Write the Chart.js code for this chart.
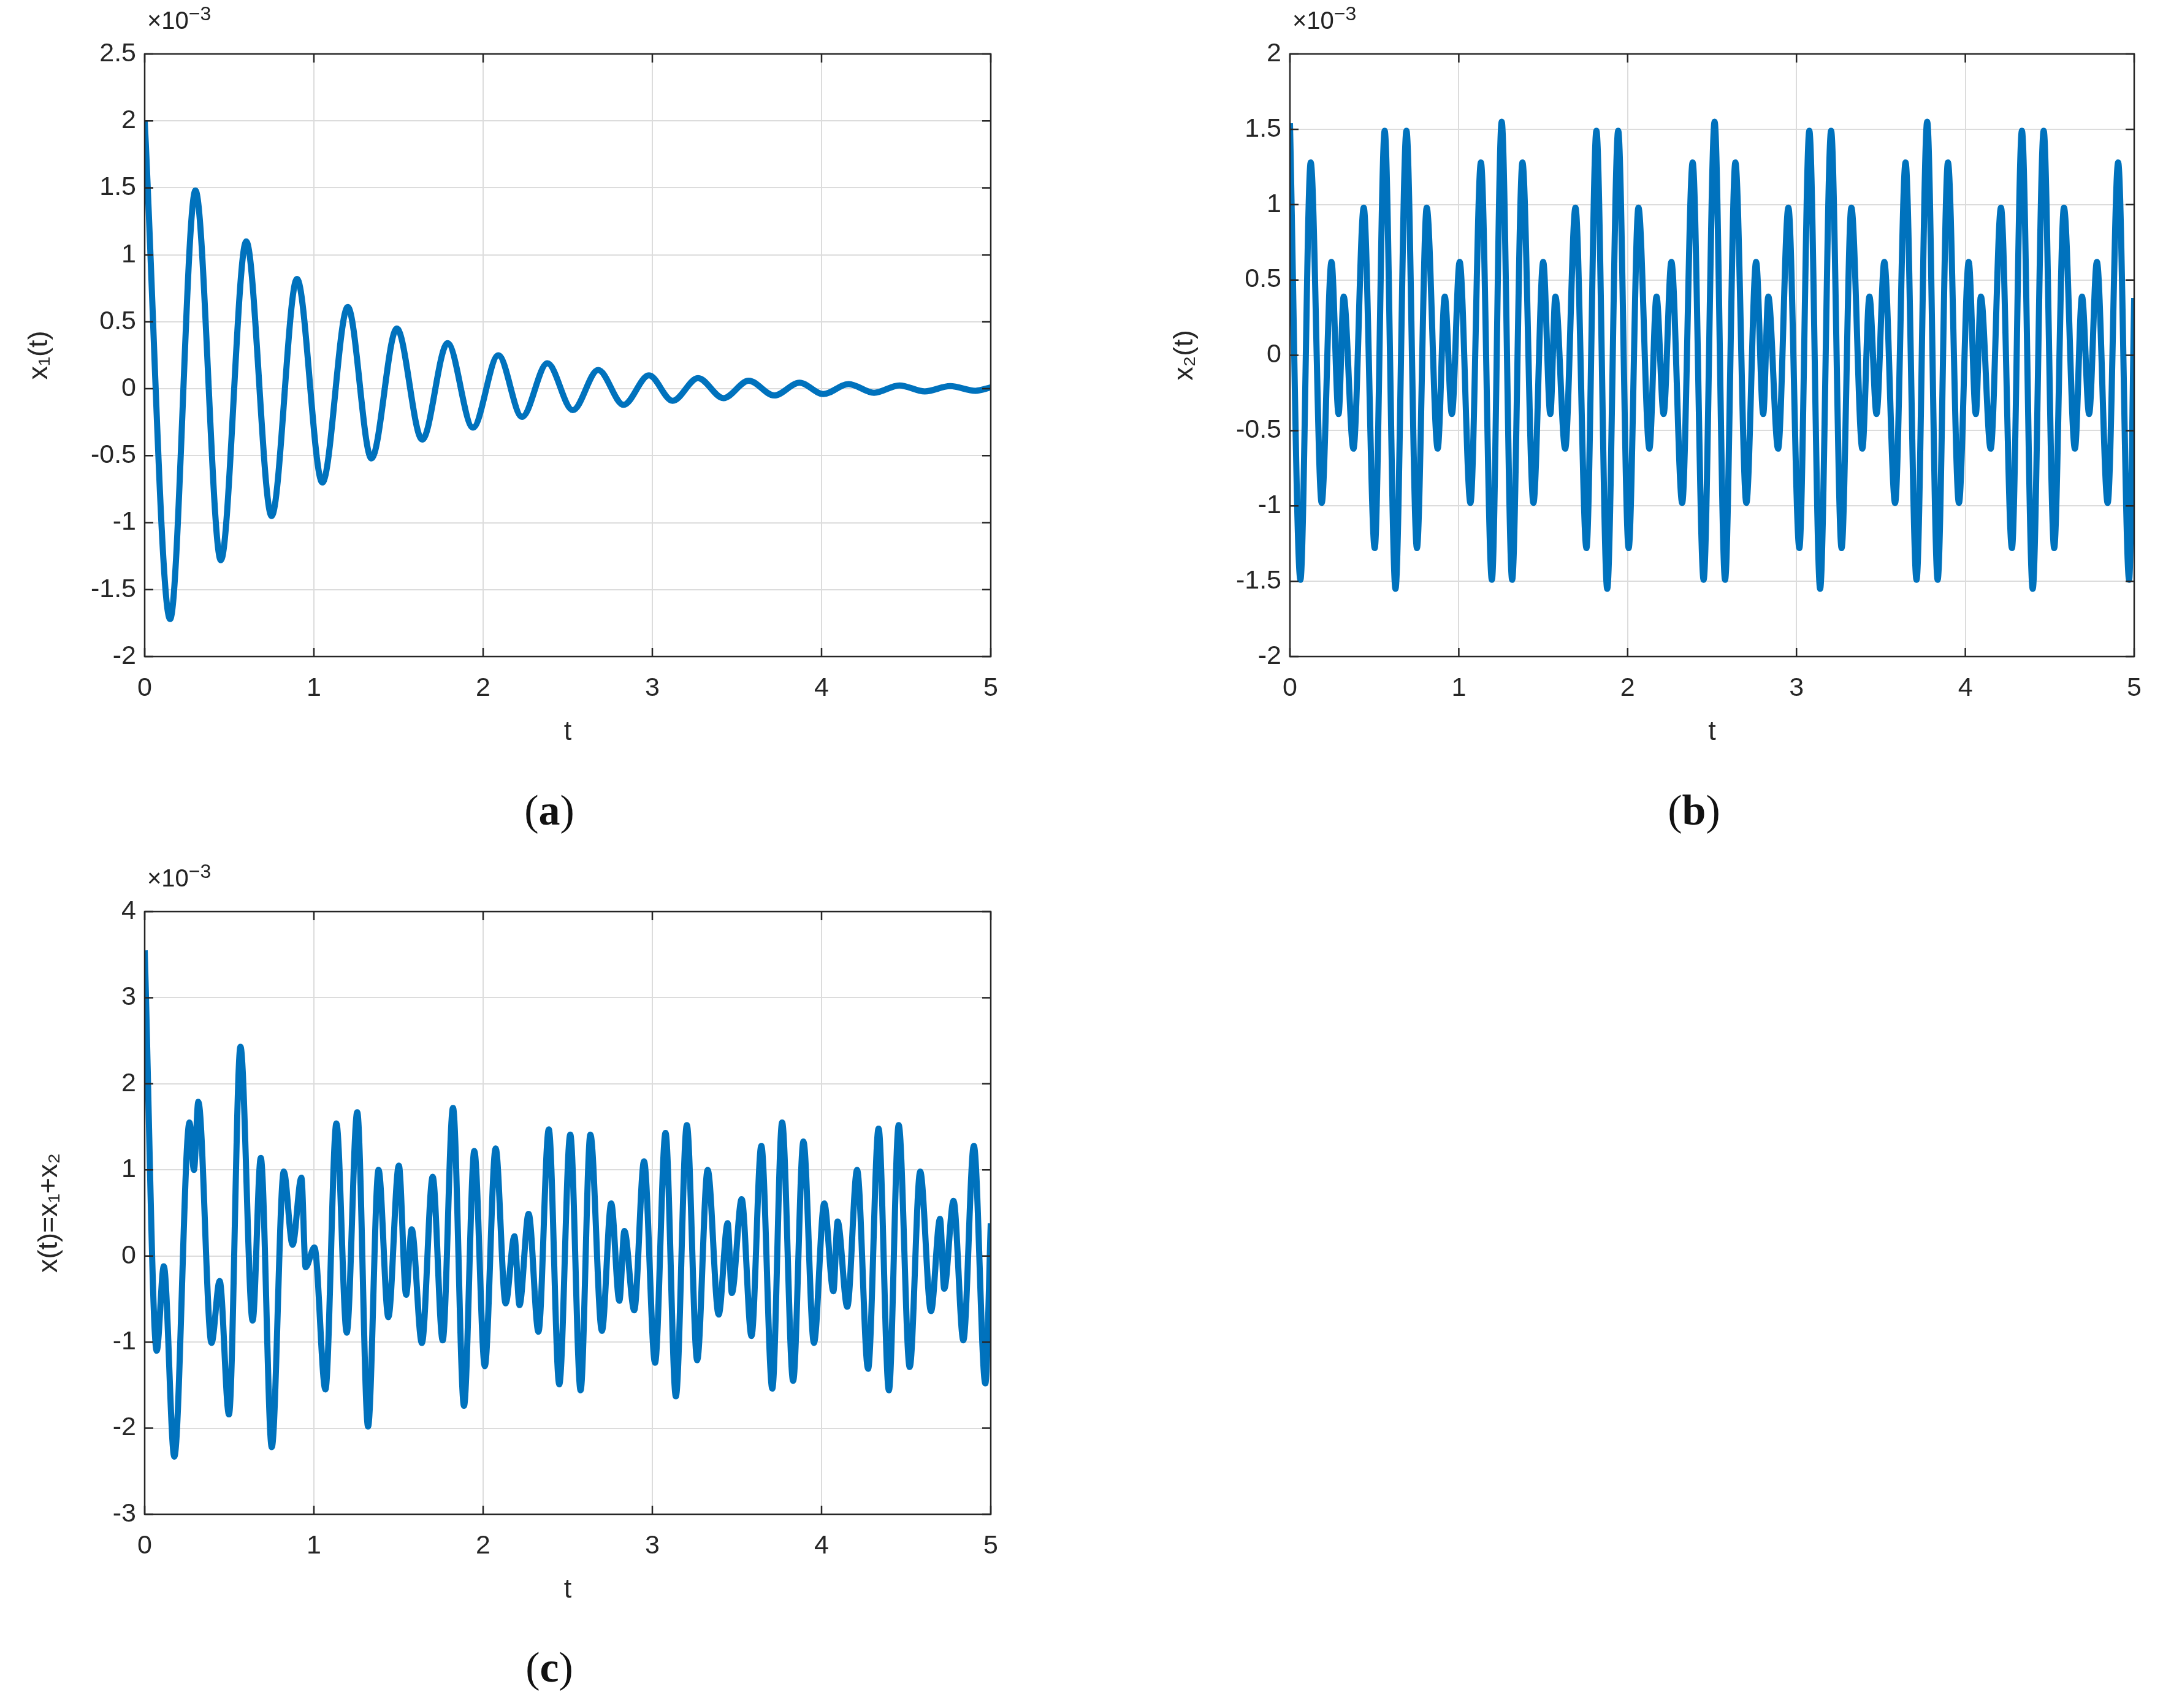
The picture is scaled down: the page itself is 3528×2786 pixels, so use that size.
<!DOCTYPE html>
<html><head><meta charset="utf-8">
<script src="https://cdn.jsdelivr.net/npm/chart.js@4"></script>
<style>
body{margin:0;background:#fff;width:3528px;height:2786px;position:relative;overflow:hidden;font-family:"Liberation Sans",Arial,sans-serif}
.c{position:absolute}
.lab{position:absolute;font-family:"Liberation Serif","DejaVu Serif",serif;font-size:70px;color:#111;transform:translateX(-50%)}
.exp{position:absolute;font-size:40px;color:#222}
.exp sup{font-size:32px}
</style></head><body>
<canvas id="ca" class="c" style="left:0;top:0;width:1700px;height:1250px" width="1700" height="1250"></canvas>
<canvas id="cb" class="c" style="left:1868px;top:0;width:1660px;height:1250px" width="1660" height="1250"></canvas>
<canvas id="cc" class="c" style="left:0;top:1399px;width:1700px;height:1250px" width="1700" height="1250"></canvas>
<div class="exp" style="left:240px;top:4px">×10<sup>−3</sup></div>
<div class="exp" style="left:2108px;top:4px">×10<sup>−3</sup></div>
<div class="exp" style="left:240px;top:1403px">×10<sup>−3</sup></div>
<div class="lab" style="left:896px;top:1282px">(<b>a</b>)</div>
<div class="lab" style="left:2763px;top:1282px">(<b>b</b>)</div>
<div class="lab" style="left:896px;top:2680px">(<b>c</b>)</div>
<script>
const aT=[0,0.15,0.30,0.45,0.60,0.75,0.90,1.05,1.20,1.34,1.49,1.64,1.79,1.94,2.09,2.23,2.38,2.53,2.68,2.83,2.98,3.12,3.27,3.42,3.57,3.72,3.87,4.01,4.16,4.31,4.46,4.61,4.76,4.91,5.0];
const aY=[2.0,-1.72,1.48,-1.28,1.10,-0.95,0.82,-0.70,0.61,-0.52,0.45,-0.38,0.34,-0.29,0.25,-0.21,0.19,-0.16,0.14,-0.12,0.10,-0.09,0.08,-0.07,0.06,-0.05,0.045,-0.04,0.035,-0.03,0.025,-0.02,0.02,-0.015,0.01];

const bT=[0,0.062,0.123,0.188,0.246,0.288,0.318,0.376,0.437,0.502,0.561,0.625,0.690,0.752,0.810,0.875,0.917,0.959,1.005,1.069,1.131,1.196,
1.254,1.316,1.377,1.442,1.500,1.542,1.572,1.630,1.691,1.756,1.815,1.879,1.944,2.006,2.064,2.129,2.171,2.213,2.259,2.323,2.385,2.450,
2.515,2.577,2.638,2.703,2.761,2.803,2.833,2.891,2.952,3.017,3.076,3.140,3.205,3.267,3.325,3.390,3.432,3.474,3.520,3.584,3.646,3.711,
3.774,3.836,3.897,3.962,4.020,4.062,4.092,4.150,4.211,4.276,4.335,4.399,4.464,4.526,4.584,4.649,4.691,4.733,4.779,4.843,4.905,4.970,5.0];
const bY=[1.54,-1.49,1.28,-0.98,0.62,-0.39,0.39,-0.62,0.98,-1.28,1.49,-1.55,1.49,-1.28,0.98,-0.62,0.39,-0.39,0.62,-0.98,1.28,-1.49,
1.55,-1.49,1.28,-0.98,0.62,-0.39,0.39,-0.62,0.98,-1.28,1.49,-1.55,1.49,-1.28,0.98,-0.62,0.39,-0.39,0.62,-0.98,1.28,-1.49,
1.55,-1.49,1.28,-0.98,0.62,-0.39,0.39,-0.62,0.98,-1.28,1.49,-1.55,1.49,-1.28,0.98,-0.62,0.39,-0.39,0.62,-0.98,1.28,-1.49,
1.55,-1.49,1.28,-0.98,0.62,-0.39,0.39,-0.62,0.98,-1.28,1.49,-1.55,1.49,-1.28,0.98,-0.62,0.39,-0.39,0.62,-0.98,1.28,-1.49,0.38];

const cT=[0,0.071,0.113,0.175,0.265,0.291,0.317,0.395,0.443,0.498,0.566,0.638,0.686,0.751,0.822,0.874,0.926,0.951,1.003,1.068,1.133,1.194,1.256,1.320,1.382,1.440,1.502,1.545,1.578,1.638,1.702,1.761,1.822,1.887,1.948,2.010,2.074,2.133,2.185,2.215,2.269,2.327,2.388,2.450,2.515,2.576,2.634,2.702,2.757,2.805,2.835,2.893,2.951,3.016,3.078,3.139,3.204,3.265,3.327,3.392,3.445,3.470,3.528,3.586,3.644,3.709,3.767,3.832,3.893,3.955,4.016,4.070,4.095,4.152,4.210,4.275,4.337,4.398,4.456,4.521,4.583,4.647,4.700,4.725,4.780,4.838,4.900,4.968,5.0];
const cY=[3.55,-1.10,-0.12,-2.33,1.55,1.0,1.79,-1.01,-0.29,-1.84,2.43,-0.75,1.14,-2.22,0.98,0.13,0.91,-0.13,0.10,-1.55,1.54,-0.89,1.67,-1.98,1.0,-0.71,1.05,-0.45,0.31,-1.01,0.92,-0.98,1.72,-1.74,1.22,-1.28,1.25,-0.55,0.23,-0.57,0.49,-0.88,1.47,-1.49,1.41,-1.56,1.41,-0.87,0.61,-0.52,0.29,-0.63,1.10,-1.24,1.43,-1.63,1.52,-1.21,1.0,-0.68,0.38,-0.43,0.66,-0.93,1.28,-1.54,1.55,-1.45,1.33,-1.01,0.61,-0.41,0.40,-0.59,1.0,-1.31,1.48,-1.56,1.52,-1.29,0.98,-0.64,0.43,-0.38,0.64,-0.98,1.28,-1.48,0.38];

const xTicks=[0,1,2,3,4,5];
const aTicks=[-2,-1.5,-1,-0.5,0,0.5,1,1.5,2,2.5];
const bTicks=[-2,-1.5,-1,-0.5,0,0.5,1,1.5,2];
const cTicks=[-3,-2,-1,0,1,2,3,4];

const boxPlugin={id:'box',afterDraw(ch){
  const {ctx,chartArea:a,scales}=ch;ctx.save();ctx.strokeStyle='#262626';ctx.lineWidth=2.5;
  ctx.strokeRect(a.left,a.top,a.right-a.left,a.bottom-a.top);
  const L=14;ctx.beginPath();
  scales.x.ticks.forEach(t=>{const p=scales.x.getPixelForValue(t.value);ctx.moveTo(p,a.bottom);ctx.lineTo(p,a.bottom-L);ctx.moveTo(p,a.top);ctx.lineTo(p,a.top+L);});
  scales.y.ticks.forEach(t=>{const p=scales.y.getPixelForValue(t.value);ctx.moveTo(a.left,p);ctx.lineTo(a.left+L,p);ctx.moveTo(a.right,p);ctx.lineTo(a.right-L,p);});
  ctx.stroke();ctx.restore();}};

function make(id,T,Y,ticks,ymin,ymax,ytitle,pad){
  const pts=T.map((t,i)=>({x:t,y:Y[i]}));
  new Chart(document.getElementById(id),{type:'line',
    data:{datasets:[{data:pts,borderColor:'#0072BD',borderWidth:10,pointRadius:0,cubicInterpolationMode:'monotone',fill:false}]},
    plugins:[boxPlugin],
    options:{responsive:false,animation:false,devicePixelRatio:1,
      layout:{padding:{left:pad.left,top:88,right:pad.right,bottom:24}},
      plugins:{legend:{display:false},tooltip:{enabled:false}},
      scales:{
        x:{type:'linear',min:0,max:5,afterBuildTicks(s){s.ticks=xTicks.map(v=>({value:v}));},
          afterFit(s){s.height=155;},
          ticks:{color:'#262626',font:{size:43,family:'"Liberation Sans",Arial'},padding:26,maxRotation:0},
          grid:{color:'#dcdcdc',lineWidth:2,drawTicks:false},border:{display:false},
          title:{display:true,text:'t',color:'#262626',font:{size:45,family:'"Liberation Sans",Arial'},padding:{top:10}}},
        y:{min:ymin,max:ymax,afterBuildTicks(s){s.ticks=ticks.map(v=>({value:v}));},
          afterFit(s){s.width=236-pad.left;},
          ticks:{color:'#262626',font:{size:43,family:'"Liberation Sans",Arial'},padding:14,callback:v=>String(v)},
          grid:{color:'#dcdcdc',lineWidth:2,drawTicks:false},border:{display:false},
          title:{display:true,text:ytitle,color:'#262626',font:{size:45,family:'"Liberation Sans",Arial'},padding:{bottom:6}}}
      }}});
}
make('ca',aT,aY,aTicks,-2,2.5,'x₁(t)',{left:34,right:84});
make('cb',bT,bY,bTicks,-2,2,'x₂(t)',{left:34,right:47});
make('cc',cT,cY,cTicks,-3,4,'x(t)=x₁+x₂',{left:50,right:84});
</script></body></html>
